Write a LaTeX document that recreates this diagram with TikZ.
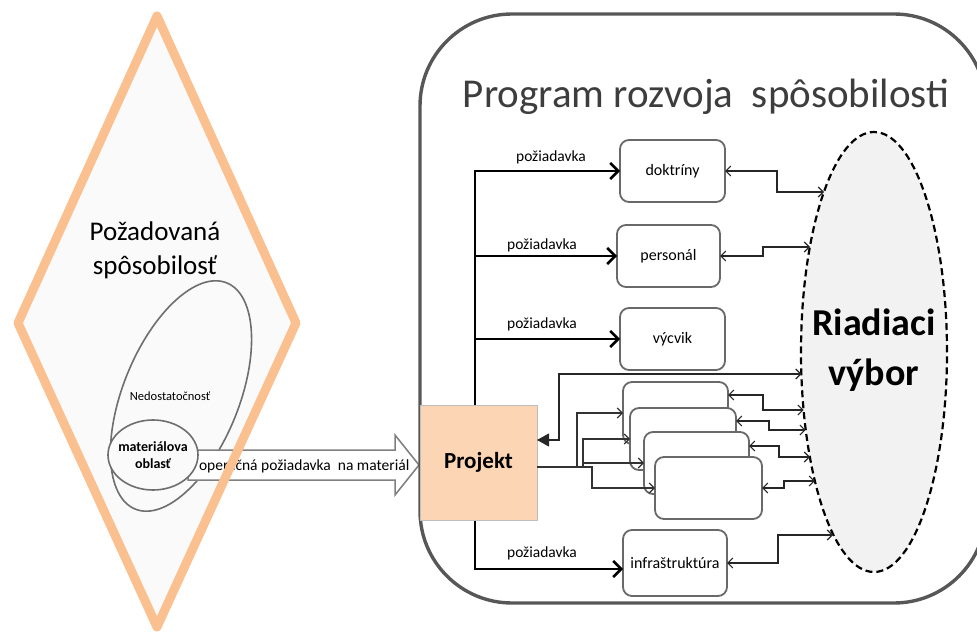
\documentclass[tikz,border=0pt]{standalone}
\usepackage{fontspec}
\setmainfont{Carlito}
\usetikzlibrary{arrows.meta,shapes.geometric}

\definecolor{capedge}{RGB}{250,192,143}
\definecolor{capfill}{RGB}{250,250,250}
\definecolor{projfill}{RGB}{252,213,181}
\definecolor{projedge}{RGB}{190,190,190}
\definecolor{areaedge}{RGB}{105,105,105}
\definecolor{boardfill}{RGB}{242,242,242}
\definecolor{gapedge}{RGB}{110,110,110}

\begin{document}
\begin{tikzpicture}[x=1pt,y=-1pt,
  every node/.style={inner sep=0pt,outer sep=0pt},
  capline/.style={draw=capedge,line width=9pt,line join=round},
  gapellipse/.style={ellipse,draw=gapedge,line width=1.6pt},
  areabox/.style={draw=areaedge,line width=1.8pt,rounded corners=9pt,fill=white,
    minimum width=105pt,minimum height=62pt,font=\fontsize{16}{19}\selectfont},
  reqarrow/.style={line width=2.6pt,line join=miter,-{Straight Barb[length=8pt,width=16pt]}},
  reqarrows/.style={line width=2.6pt,line join=miter,
    {Straight Barb[length=8pt,width=16pt]}-{Straight Barb[length=8pt,width=16pt]}},
  reqlabel/.style={font=\fontsize{15.5}{18}\selectfont},
  feed/.style={draw=black!80,line width=1.1pt,-{Straight Barb[length=5pt,width=10pt]}},
  ctrl/.style={draw=black!85,line width=1.1pt,
    {Straight Barb[length=5pt,width=10pt]}-{Straight Barb[length=5pt,width=10pt]}},
]
\useasboundingbox (0,0) rectangle (977,636);

% ---------- required capability (diamond) ----------
\fill[capfill] (157,16) -- (296,323) -- (157,627) -- (18,323) -- cycle;
\node[font=\fontsize{27}{34}\selectfont,align=center] (captext) at (155,250)
  {Požadovaná\\spôsobilosť};
\node[gapellipse,minimum width=244pt,minimum height=116pt,rotate=68] (gap) at (181,396) {};
\node[font=\fontsize{12.5}{15}\selectfont] (gaptext) at (170,396) {Nedostatočnosť};

% block arrow towards the project
\draw[draw=black!50,line width=1.5pt,fill=white,line join=miter]
  (188,450) -- (395,450) -- (395,435) -- (419,465) -- (395,495) -- (395,480) -- (188,480) -- cycle;
\node[anchor=west,font=\fontsize{15.5}{18}\selectfont] (optext) at (199,466)
  {operačná požiadavka\ \ na materiál};

\node[gapellipse,fill=capfill,minimum width=90pt,minimum height=70pt] (mat) at (153,455) {};
\node[align=center,font=\bfseries\fontsize{14}{17}\selectfont] (mattext) at (153,455)
  {materiálova\\oblasť};

\draw[capline] (157,16) -- (296,323) -- (157,627) -- (18,323) -- cycle;

% ---------- capability development programme ----------
\node[draw=black!66,line width=3.4pt,rounded corners=92pt,
  minimum width=566pt,minimum height=589pt] (frame) at (703,308.5) {};
\node[font=\fontsize{41}{48}\selectfont,text=black!76] (title) at (706,97)
  {Program rozvoja\ \ spôsobilosti};

% steering committee
\node[ellipse,draw=black,dashed,dash pattern=on 7pt off 4pt,line width=2.2pt,fill=boardfill,
  minimum width=146pt,minimum height=440pt] (rv) at (874,352) {};
\node[align=center,font=\bfseries\fontsize{38}{50}\selectfont] (rvtext) at (874,350)
  {Riadiaci\\výbor};

% points on the committee outline
\coordinate (rvA) at (824,192);
\coordinate (rvB) at (810,247);
\coordinate (rvC) at (801.5,374);
\coordinate (rvD) at (803.6,410);
\coordinate (rvE) at (805.7,430);
\coordinate (rvF) at (810,457);
\coordinate (rvG) at (814.9,481);
\coordinate (rvH) at (833,535);

% capability areas
\node[areabox] (doc) at (672.5,171) {doktríny};
\node[areabox,minimum width=103pt] (per) at (668.5,256) {personál};
\node[areabox] (vyc) at (672.5,339) {výcvik};
\node[areabox,minimum width=104pt,minimum height=66pt] (inf) at (675,563) {infraštruktúra};

% requirement bus
\coordinate (busX) at (475,0);
\coordinate (infIn) at ([yshift=-6pt]inf.west);
\draw[reqarrows] (doc.west) -| (infIn -| busX) -- (infIn);
\draw[reqarrow] (per.west -| busX) -- (per.west);
\draw[reqarrow] (vyc.west -| busX) -- (vyc.west);
\node[reqlabel] (req1) at (551,157) {požiadavka};
\node[reqlabel] (req2) at (542,245) {požiadavka};
\node[reqlabel] (req3) at (542,324) {požiadavka};
\node[reqlabel] (req4) at (542,553) {požiadavka};

% project
\node[fill=projfill,draw=projedge,line width=0.8pt,minimum width=117pt,minimum height=115pt,
  font=\bfseries\fontsize{23}{27}\selectfont] (proj) at (478.5,462.5) {Projekt};

% stacked material boxes
\node[areabox] (s1) at (675.5,413) {};
\node[areabox,minimum width=106pt] (s2) at (683,439) {};
\node[areabox] (s3) at (696.5,463) {};
\node[areabox,minimum width=107pt] (s4) at (708.5,488) {};

% project feeds the material boxes
\coordinate (pout) at ([yshift=-4.5pt]proj.east);
\draw[feed] (pout) -- ++(40,0) |- (s1.west);
\draw[feed] (pout) -- ++(46,0) |- (s2.west);
\draw[feed] (pout) -- ++(46,0) |- (s3.west);
\draw[feed] (pout) -- ++(55,0) |- (s4.west);

% committee back to the project
\draw[draw=black!85,line width=1.1pt,
  {Triangle[length=12pt,width=13pt]}-{Straight Barb[length=5pt,width=10pt]}]
  ([yshift=22.5pt]proj.east) -- ++(22,0) |- (rvC);

% areas to committee
\draw[ctrl] (doc.east) -- ++(52,0) |- (rvA);
\draw[ctrl] (per.east) -- ++(43,0) |- (rvB);
\draw[ctrl] ([yshift=18pt]s1.east) -- ++(35,0) |- (rvD);
\draw[ctrl] ([yshift=18pt]s2.east) -- ++(33,0) |- (rvE);
\draw[ctrl] ([yshift=17pt]s3.east) -- ++(30,0) |- (rvF);
\draw[ctrl] (s4.east) -- ++(22,0) |- (rvG);
\draw[ctrl] (inf.east) -- ++(51,0) |- (rvH);
\end{tikzpicture}
\end{document}
